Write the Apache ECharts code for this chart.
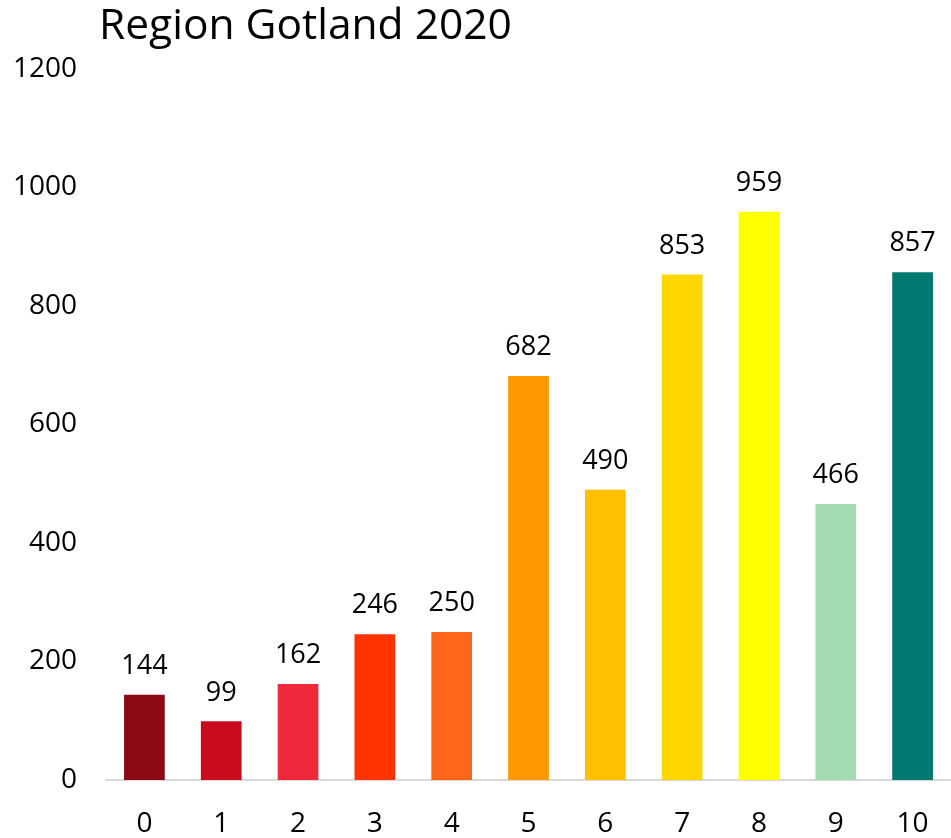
<!DOCTYPE html>
<html><head><meta charset="utf-8">
<script src="https://cdn.jsdelivr.net/npm/echarts@6/dist/echarts.min.js"></script>
<style>html,body{margin:0;padding:0;background:#fff}#c{width:951px;height:838px}</style>
</head><body><div id="c"></div>
<script>
const categories = ['0','1','2','3','4','5','6','7','8','9','10'];
const values = [144, 99, 162, 246, 250, 682, 490, 853, 959, 466, 857];
const colors = ['#8B0A14','#C80C1E','#F0283C','#FF3300','#FF6619','#FF9900','#FFC000','#FFD700','#FFFF00','#A2DBB2','#007A70'];
const yTicks = [0, 200, 400, 600, 800, 1000, 1200];
const font = '"Open Sans", "Liberation Sans", sans-serif';
const chart = echarts.init(document.getElementById('c'));
chart.setOption({
  animation: false,
  title: { text: 'Region Gotland 2020', left: 94, top: 0,
    textStyle: { fontFamily: font, fontSize: 42.5, fontWeight: 'normal', color: '#000' } },
  grid: { left: 106, right: 0, top: 69, bottom: 58, containLabel: false },
  xAxis: { type: 'category', data: categories,
    axisLine: { lineStyle: { color: '#d9d9d9', width: 2 } },
    axisTick: { show: false },
    axisLabel: { fontFamily: font, fontSize: 28, color: '#000', margin: 30 } },
  yAxis: { type: 'value', min: yTicks[0], max: yTicks[yTicks.length-1], interval: 200,
    axisLine: { show: false }, axisTick: { show: false }, splitLine: { show: false },
    axisLabel: { fontFamily: font, fontSize: 28, color: '#000', margin: 29, formatter: v => String(v) } },
  series: [{ type: 'bar', barWidth: '53%',
    data: values.map((v, i) => ({ value: v, itemStyle: { color: colors[i] } })),
    label: { show: true, position: 'top', distance: 15, fontFamily: font, fontSize: 27, color: '#000' } }]
});
</script></body></html>
